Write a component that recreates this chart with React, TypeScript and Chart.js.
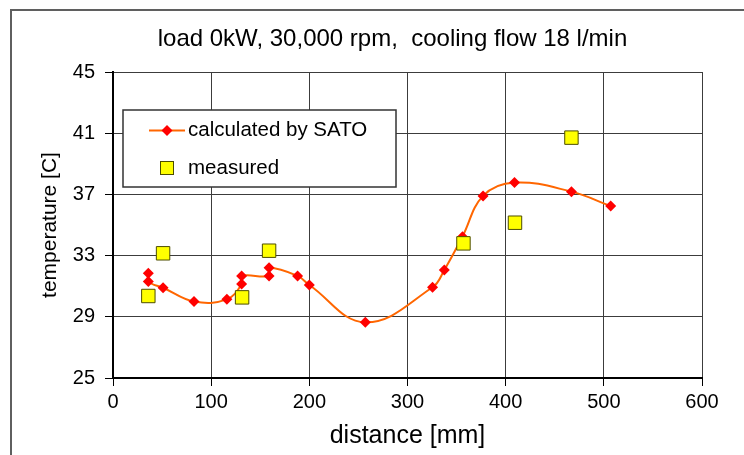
import React, { useEffect, useRef } from 'react';
import { Chart, registerables } from 'chart.js';

Chart.register(...registerables);

const TITLE = 'load 0kW, 30,000 rpm,  cooling flow 18 l/min';
const X_TITLE = 'distance [mm]';
const Y_TITLE = 'temperature [C]';
const CALC_LABEL = 'calculated by SATO';
const MEAS_LABEL = 'measured';

// calculated by SATO (distance mm, temperature C)
const calcX = [36, 36, 51, 82.5, 116, 131, 131, 159, 159, 188, 200, 257, 325.5, 337.5, 356, 377, 409, 467, 507];
const calcY = [31.84, 31.3, 30.9, 30.0, 30.14, 31.14, 31.67, 31.67, 32.2, 31.67, 31.08, 28.64, 30.93, 32.06, 34.24, 36.9, 37.77, 37.18, 36.24];

// measured
const measX = [36, 51, 131.5, 159, 357, 409.5, 467];
const measY = [30.36, 33.15, 30.27, 33.32, 33.8, 35.15, 40.71];

const X_MIN = 0;
const X_MAX = 600;
const X_STEP = 100;
const Y_MIN = 25;
const Y_MAX = 45;
const Y_STEP = 4;

const FONT = "'Liberation Sans', Arial, sans-serif";
const LINE_COLOR = '#FF6600';
const DIAMOND_COLOR = '#FF0000';
const SQUARE_FILL = '#FFFF00';
const SQUARE_BORDER = '#4d4d00';

const framePlugin = {
  id: 'frame',
  beforeDraw(chart: any) {
    const ctx = chart.ctx;
    ctx.save();
    ctx.fillStyle = '#ffffff';
    ctx.fillRect(0, 0, chart.width, chart.height);
    ctx.strokeStyle = '#5f5f5f';
    ctx.lineWidth = 2;
    ctx.beginPath();
    ctx.moveTo(11, chart.height + 10);
    ctx.lineTo(11, 10);
    ctx.lineTo(chart.width + 10, 10);
    ctx.stroke();
    // chart title
    ctx.fillStyle = '#000000';
    ctx.font = `24px ${FONT}`;
    ctx.textAlign = 'center';
    ctx.textBaseline = 'middle';
    ctx.fillText(TITLE, 392.5, 39);
    ctx.restore();
  },
};

const legendPlugin = {
  id: 'boxLegend',
  afterDraw(chart: any) {
    const ctx = chart.ctx;
    const bx = 123, by = 110, bw = 273, bh = 77;
    ctx.save();
    ctx.fillStyle = '#ffffff';
    ctx.fillRect(bx, by, bw, bh);
    ctx.strokeStyle = '#333333';
    ctx.lineWidth = 1.5;
    ctx.strokeRect(bx, by, bw, bh);

    // calculated entry
    const y1 = 130.5;
    ctx.strokeStyle = LINE_COLOR;
    ctx.lineWidth = 2;
    ctx.beginPath();
    ctx.moveTo(149, y1);
    ctx.lineTo(185, y1);
    ctx.stroke();
    const cx = 167, r = 5.5;
    ctx.fillStyle = DIAMOND_COLOR;
    ctx.beginPath();
    ctx.moveTo(cx - r, y1);
    ctx.lineTo(cx, y1 - r);
    ctx.lineTo(cx + r, y1);
    ctx.lineTo(cx, y1 + r);
    ctx.closePath();
    ctx.fill();

    // measured entry
    const y2 = 168;
    ctx.fillStyle = SQUARE_FILL;
    ctx.strokeStyle = SQUARE_BORDER;
    ctx.lineWidth = 1;
    ctx.fillRect(160.5, y2 - 6.5, 13, 13);
    ctx.strokeRect(160.5, y2 - 6.5, 13, 13);

    ctx.fillStyle = '#000000';
    ctx.font = `20.5px ${FONT}`;
    ctx.textAlign = 'left';
    ctx.textBaseline = 'middle';
    ctx.fillText(CALC_LABEL, 188, y1);
    ctx.fillText(MEAS_LABEL, 188, y2);
    ctx.restore();
  },
};

export default function App() {
  const ref = useRef<HTMLCanvasElement | null>(null);

  useEffect(() => {
    if (!ref.current) return;
    const calcData = calcX.map((x, i) => ({ x, y: calcY[i] }));
    const measData = measX.map((x, i) => ({ x, y: measY[i] }));
    const chart = new Chart(ref.current, {
      type: 'scatter',
      data: {
        datasets: [
          {
            label: MEAS_LABEL,
            data: measData,
            showLine: false,
            pointStyle: 'rect',
            pointRadius: 9.5,
            pointHoverRadius: 9.5,
            backgroundColor: SQUARE_FILL,
            borderColor: SQUARE_BORDER,
            borderWidth: 1,
          },
          {
            label: CALC_LABEL,
            data: calcData,
            showLine: true,
            tension: 0.4,
            borderColor: LINE_COLOR,
            borderWidth: 2,
            pointStyle: 'rectRot',
            pointRadius: 5.5,
            pointHoverRadius: 5.5,
            pointBackgroundColor: DIAMOND_COLOR,
            pointBorderColor: DIAMOND_COLOR,
            pointBorderWidth: 0,
          },
        ],
      },
      options: {
        responsive: false,
        devicePixelRatio: 1,
        animation: false,
        events: [],
        layout: { padding: { left: 0, right: 42, top: 72, bottom: 0 } },
        plugins: {
          legend: { display: false },
          tooltip: { enabled: false },
          title: { display: false },
        },
        scales: {
          x: {
            type: 'linear',
            min: X_MIN,
            max: X_MAX,
            ticks: { stepSize: X_STEP, color: '#000', font: { family: FONT, size: 20 }, padding: 4 },
            grid: { color: '#3c3c3c', lineWidth: 1, tickLength: 8, tickColor: '#000' },
            border: { display: true, color: '#000', width: 2 },
            title: {
              display: true,
              text: X_TITLE,
              color: '#000',
              font: { family: FONT, size: 25 },
              padding: { top: 0, bottom: 4 },
            },
            afterFit(scale: any) {
              scale.height = 77;
            },
          },
          y: {
            type: 'linear',
            min: Y_MIN,
            max: Y_MAX,
            ticks: { stepSize: Y_STEP, color: '#000', font: { family: FONT, size: 20 }, padding: 10 },
            grid: { color: '#3c3c3c', lineWidth: 1, tickLength: 8, tickColor: '#000' },
            border: { display: true, color: '#000', width: 2 },
            title: {
              display: true,
              text: Y_TITLE,
              color: '#000',
              font: { family: FONT, size: 21 },
              padding: { top: 37.4, bottom: 0 },
            },
            afterFit(scale: any) {
              scale.width = 113;
            },
          },
        },
      },
      plugins: [framePlugin, legendPlugin],
    });
    return () => chart.destroy();
  }, []);

  return (
    <div
      style={{
        position: 'fixed',
        left: 0,
        top: 0,
        width: 744,
        height: 455,
        overflow: 'hidden',
        background: '#fff',
      }}
    >
      <canvas ref={ref} width={744} height={455} style={{ width: 744, height: 455, display: 'block' }} />
    </div>
  );
}
